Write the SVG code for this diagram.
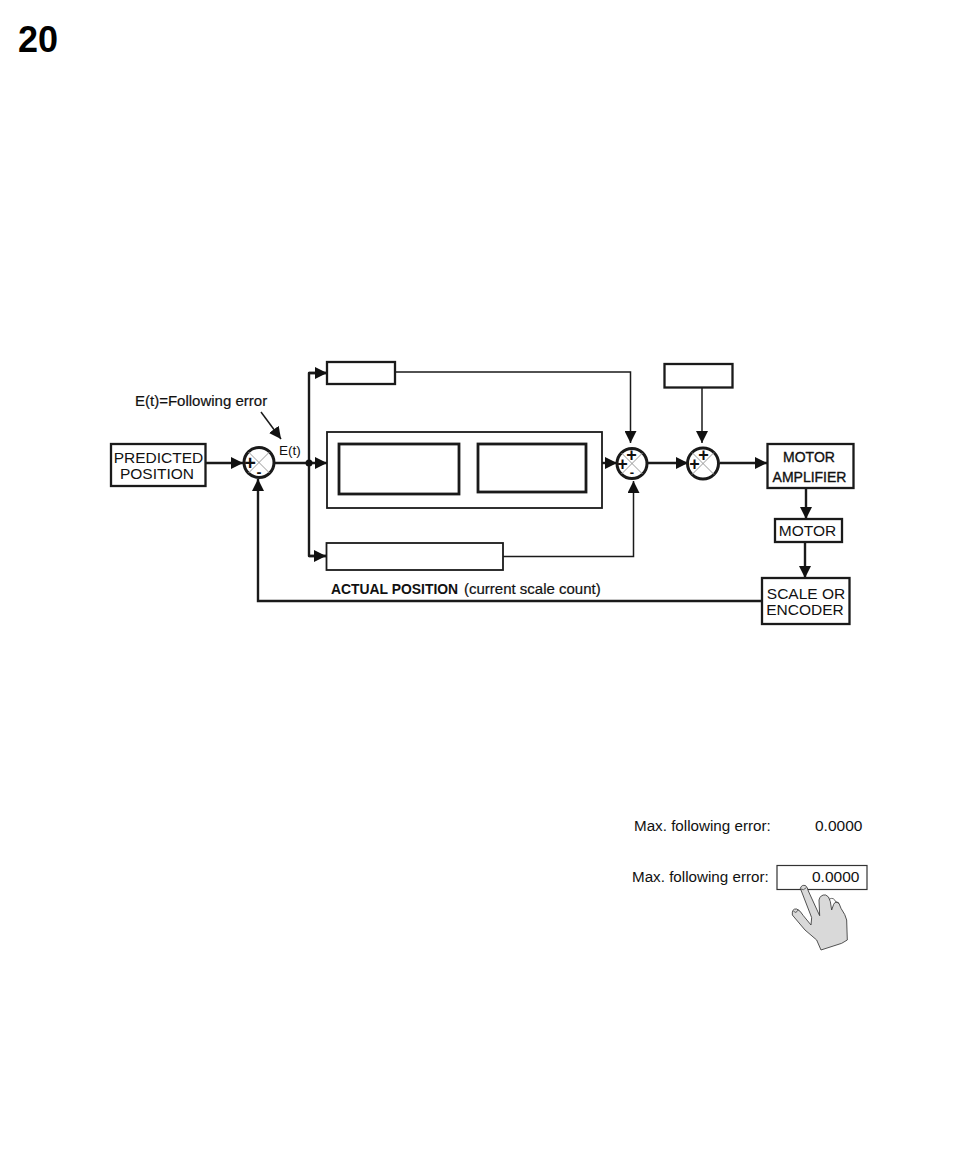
<svg xmlns="http://www.w3.org/2000/svg" width="954" height="1159" viewBox="0 0 954 1159">
<style>
text{font-family:"Liberation Sans",Arial,sans-serif;fill:#111}
.box{fill:#fff;stroke:#1a1a1a;stroke-width:2.300}
.thin{stroke-width:1.800}
.thick{stroke-width:2.800}
.sum{fill:#fff;stroke:#1a1a1a;stroke-width:3}
.x{stroke:#999;stroke-width:1;fill:none}
.c{fill:none;stroke:#1a1a1a;stroke-width:2.400}
.t{stroke-width:1.500}
.lbl{font-size:15.500px;text-anchor:middle}
.amp{font-size:14px;text-anchor:middle;stroke:#111;stroke-width:.35}
.sign{font-weight:bold;text-anchor:middle}
.semi{stroke:#111;stroke-width:.2}
</style>
<defs>
<marker id="a" markerUnits="userSpaceOnUse" markerWidth="13" markerHeight="12" refX="12" refY="6" orient="auto"><path d="M0 0L12 6L0 12Z" fill="#111"/></marker>
</defs>
<rect width="954" height="1159" fill="#fff"/>
<text id="page-number" x="18" y="52" font-size="36" font-weight="bold" style="fill:#000">20</text>

<g id="connectors">
<path class="c" d="M206 463H243" marker-end="url(#a)"/>
<path class="c" d="M274 463H327" marker-end="url(#a)"/>
<path class="c" d="M327 373H309V556H327" style="stroke-linejoin:round"/>
<path class="c" d="M309 373H327" marker-end="url(#a)"/>
<path class="c" d="M309 556H326" marker-end="url(#a)"/>
<circle cx="309" cy="463" r="3.500" fill="#111"/>
<path class="c t" d="M395 372H630.500V443" marker-end="url(#a)"/>
<path class="c" d="M459 464H477" marker-end="url(#a)"/>
<path class="c" d="M602 463H617" marker-end="url(#a)"/>
<path class="c t" d="M503 556.500H633.500V481" marker-end="url(#a)"/>
<path class="c" d="M648 463H688" marker-end="url(#a)"/>
<path class="c t" d="M702 388V443" marker-end="url(#a)"/>
<path class="c" d="M720 463H767" marker-end="url(#a)"/>
<path class="c" d="M806 488V519" marker-end="url(#a)"/>
<path class="c" d="M805 542V578" marker-end="url(#a)"/>
<path class="c" d="M762 601H258V479" marker-end="url(#a)"/>
<path class="c t" d="M261 412L281 439" marker-end="url(#a)"/>
</g>

<g id="predicted-position"><rect class="box" x="111" y="444" width="94.500" height="42"/>
<text class="lbl" x="158.500" y="463">PREDICTED</text><text class="lbl" x="157" y="479">POSITION</text></g>

<g id="sum-1"><circle class="sum" cx="259" cy="462.500" r="15"/><path class="x" d="M248.500 452L269.500 473M248.500 473L269.500 452"/>
<text class="sign" x="250" y="470" font-size="20">+</text><text class="sign" x="259" y="477" font-size="15">-</text></g>

<g id="block-top"><rect class="box" x="327" y="362" width="68" height="22"/></g>
<g id="block-outer"><rect class="box thin" x="327" y="432" width="275" height="76"/></g>
<g id="block-inner-left"><rect class="box thick" x="339" y="444" width="120" height="50"/></g>
<g id="block-inner-right"><rect class="box thick" x="478" y="444" width="108" height="48"/></g>
<g id="block-bottom"><rect class="box thin" x="326.500" y="543" width="176.500" height="27"/></g>

<g id="sum-2"><circle class="sum" cx="632" cy="463.500" r="15"/><path class="x" d="M621.500 453L642.500 474M621.500 474L642.500 453"/>
<text class="sign" x="631.500" y="461" font-size="18">+</text><text class="sign" x="622.500" y="470" font-size="18">+</text><text class="sign" x="632" y="477" font-size="13">-</text></g>

<g id="sum-3"><circle class="sum" cx="703" cy="463.500" r="15.500"/><path class="x" d="M692 452.500L714 474.500M692 474.500L714 452.500"/>
<text class="sign" x="703.500" y="460.500" font-size="18">+</text><text class="sign" x="694.500" y="469.500" font-size="18">+</text></g>

<g id="block-top-right"><rect class="box" x="664.500" y="364" width="68" height="23.500"/></g>

<g id="motor-amplifier"><rect class="box" x="767.500" y="444" width="86" height="44"/>
<text class="amp" x="809" y="461.500">MOTOR</text><text class="amp" x="809.500" y="481.500">AMPLIFIER</text></g>

<g id="motor"><rect class="box" x="775" y="519" width="67" height="23"/><text class="lbl" x="807.500" y="536">MOTOR</text></g>

<g id="scale-or-encoder"><rect class="box" x="762" y="578" width="87.500" height="46"/>
<text class="lbl" x="806" y="599">SCALE OR</text><text class="lbl" x="805" y="615">ENCODER</text></g>

<text id="following-error-label" class="semi" x="135" y="406" font-size="15">E(t)=Following error</text>
<text id="et-label" x="279" y="455" font-size="13.500">E(t)</text>
<text id="actual-position-label" x="331" y="594"><tspan font-weight="bold" font-size="13.900">ACTUAL POSITION</tspan><tspan class="semi" x="464" font-size="15">(current scale count)</tspan></text>

<g id="readout-1"><text x="634" y="831" font-size="15.200">Max. following error:</text><text x="815" y="831" font-size="15.500">0.0000</text></g>
<g id="readout-2"><text x="632" y="882" font-size="15.200">Max. following error:</text>
<rect x="777" y="865.500" width="90" height="24" fill="#fff" stroke="#333" stroke-width="1.200"/>
<text x="812" y="882" font-size="15.500">0.0000</text></g>

<g id="hand" transform="translate(785 875) scale(.3333)">
<path d="M46 40Q50 28 62 32Q68 38 70 48L104 122L102 75Q106 58 122 60Q132 62 136 80L140 105L146 88Q152 76 162 85L168 100Q182 120 185 135L187 195L170 205L108 225L95 195L60 165L22 120Q20 100 35 102Q45 105 55 122L78 150L80 128Z" fill="#d9d9d9" stroke="#333" stroke-width="2.500" stroke-linejoin="round"/>
<path d="M134 72Q146 66 152 80L162 85M48 42Q55 48 64 38M26 108Q32 118 40 104" fill="none" stroke="#333" stroke-width="2.200"/>
</g>
</svg>
